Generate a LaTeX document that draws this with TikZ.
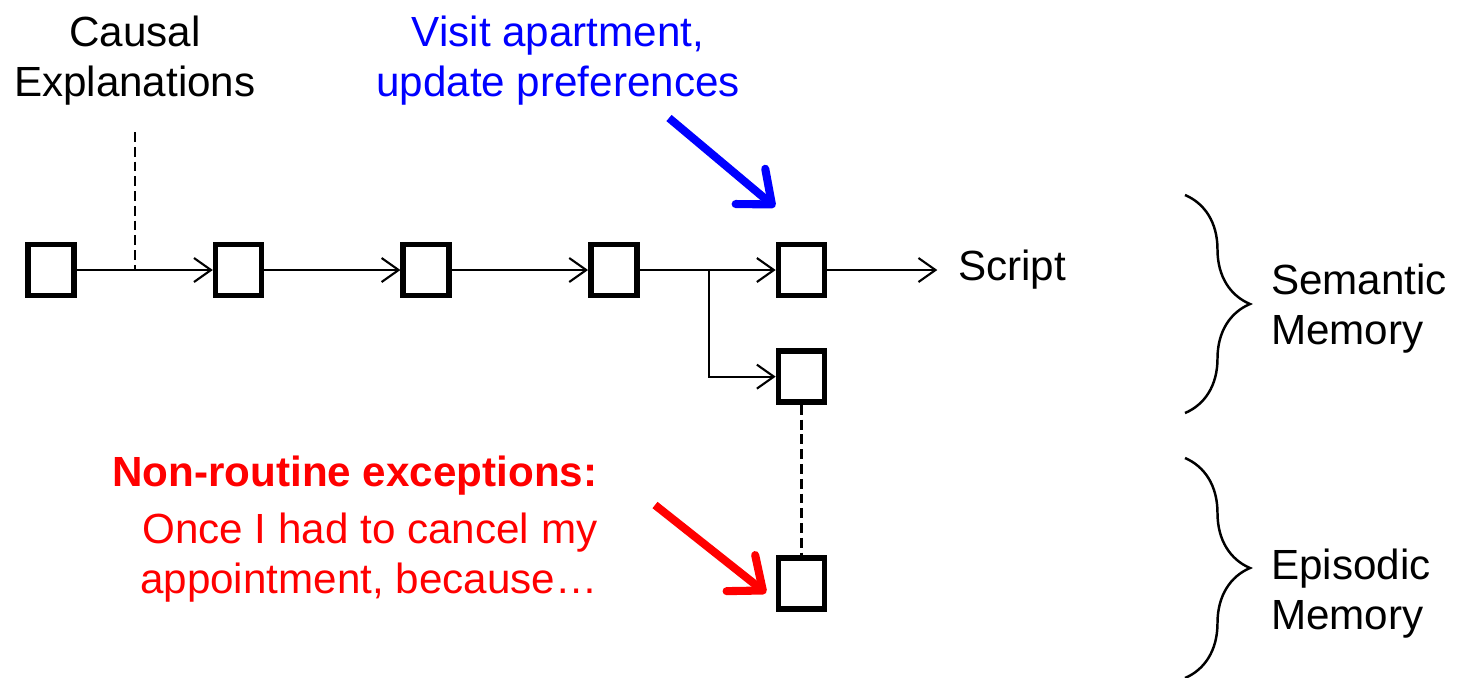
\documentclass[tikz,border=0pt]{standalone}
\usepackage{fontspec}
\setmainfont{Liberation Sans}
\usetikzlibrary{arrows.meta,positioning,decorations.pathreplacing}

\begin{document}
\begin{tikzpicture}[
  font=\fontsize{12}{14.2}\selectfont,
  >={Straight Barb[length=1.7mm,width=2.4mm]},
  node distance=13.6mm,
  event/.style={
    draw,
    line width=1.6pt,
    minimum width=4.6mm,
    minimum height=5.1mm,
    inner sep=0pt
  },
  caption/.style={inner sep=0pt,align=center},
  link/.style={->,line width=0.6pt},
  tie/.style={line width=0.6pt,dash pattern=on 2.8pt off 1.4pt},
  hint/.style={line width=2.3pt,-{Straight Barb[length=2.8mm,width=4.6mm,round]}},
  bracket/.style={line width=0.7pt,decorate,decoration={brace,amplitude=6.5mm}}
]
  \useasboundingbox (0,0) rectangle (14.6,-6.77);

  % chain of events
  \node[event] (e1) at (0.51,-2.70) {};
  \node[event,right=of e1] (e2) {};
  \node[event,right=of e2] (e3) {};
  \node[event,right=of e3] (e4) {};
  \node[event,right=of e4] (e5) {};
  \node[event,below=5mm of e5] (e6) {};
  \node[event,below=15mm of e6] (e7) {};

  \node[right=11mm of e5,inner xsep=2mm,inner ysep=0pt] (script) {Script};

  \coordinate[right=5.8mm of e1] (cause);
  \coordinate[above=13.8mm of cause] (cause top);
  \coordinate[right=6.9mm of e4] (split);

  \node[caption,above=2.6mm of cause top] (causal) {Causal\\Explanations};

  \node[caption,text=blue,anchor=north] (visit) at (5.58,-0.15) {
    Visit apartment,\\
    update preferences
  };
  \coordinate (visit tail) at (6.69,-1.18);
  \coordinate (visit tip) at (7.75,-2.07);

  \node[caption,text=red,align=right,anchor=north east] (exceptions) at (5.98,-4.55) {
    \textbf{Non-routine exceptions:}\\[2pt]
    Once I had to cancel my\\
    appointment, because\ldots
  };
  \coordinate (exception tail) at (6.55,-5.05);
  \coordinate (exception tip) at (7.66,-5.93);

  \coordinate (sem top) at (11.85,-1.95);
  \coordinate (sem bottom) at (11.85,-4.13);
  \coordinate (epi top) at (11.85,-4.58);
  \coordinate (epi bottom) at (11.85,-6.78);

  \draw[link] (e1) -- (e2);
  \draw[link] (e2) -- (e3);
  \draw[link] (e3) -- (e4);
  \draw[link] (e4) -- (e5);
  \draw[link] (e5) -- (script);
  \draw[link] (split) |- (e6);
  \draw[tie] (cause top) -- (cause);
  \draw[tie] (e6) -- (e7);

  \draw[hint,draw=blue] (visit tail) -- (visit tip);
  \draw[hint,draw=red] (exception tail) -- (exception tip);

  \draw[bracket] (sem top) -- node[caption,align=left,right=8.5mm,yshift=-0.5mm] (semantic) {Semantic\\Memory} (sem bottom);
  \draw[bracket] (epi top) -- node[caption,align=left,right=8.5mm,yshift=-2.6mm] (episodic) {Episodic\\Memory} (epi bottom);
\end{tikzpicture}
\end{document}
